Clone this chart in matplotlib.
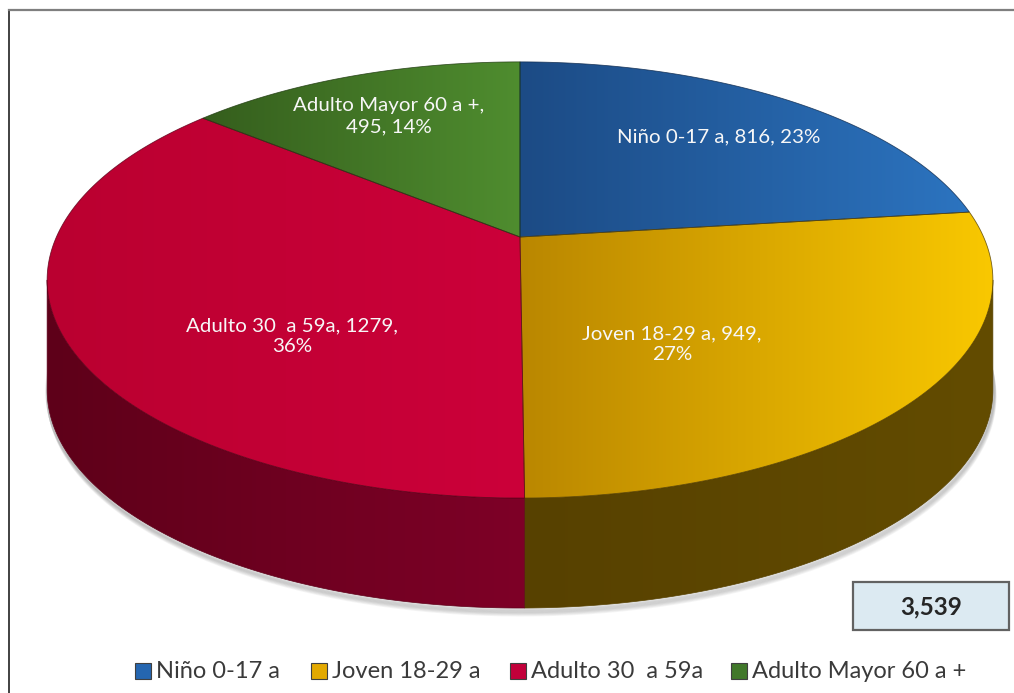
import numpy as np
import matplotlib
matplotlib.use("Agg")
import matplotlib.pyplot as plt
from matplotlib.patches import Polygon, Rectangle
from matplotlib.colors import to_rgb

# ---------------- data ----------------
categories = ["Niño 0-17 a", "Joven 18-29 a", "Adulto 30  a 59a", "Adulto Mayor 60 a +"]
values = [816, 949, 1279, 495]
total_label = "3,539"

top_left = ["#1C4B85", "#BA8700", "#BA0030", "#355E1D"]
top_right = ["#2C74C0", "#F9C800", "#CC003A", "#4F8D2F"]
side_left = ["#0E2A4E", "#574100", "#5E0019", "#1F3A10"]
side_right = ["#163E6E", "#634C00", "#7E0027", "#2A4D16"]
legend_colors = ["#2566B0", "#E3A900", "#C2003A", "#41782A"]

# ---------------- figure ----------------
W, H = 1014, 693
fig = plt.figure(figsize=(W / 100, H / 100), dpi=100)
ax = fig.add_axes([0, 0, 1, 1])
ax.set_xlim(0, W)
ax.set_ylim(H, 0)
ax.axis("off")
FONT = ["Lato", "DejaVu Sans"]

# projected 3-D pie geometry
CX, CY = 520, 237
A, B, K = 463.6, 209.6, 0.197
DEPTH = 110


def proj(theta_deg):
    t = np.radians(theta_deg)
    u = np.sin(t)
    v = -np.cos(t)
    d = 1 - K * v
    return CX + A * u / d, CY + B * v / d


def grad_fill(poly_pts, c1, c2, z):
    poly = Polygon(poly_pts, closed=True, facecolor="none", edgecolor="none", zorder=z)
    ax.add_patch(poly)
    xs = poly_pts[:, 0]
    ys = poly_pts[:, 1]
    x0, x1 = xs.min(), xs.max()
    y0, y1 = ys.min(), ys.max()
    n = 256
    a = np.array(to_rgb(c1))
    b = np.array(to_rgb(c2))
    f = np.linspace(0, 1, n)[None, :, None]
    img = a[None, None, :] * (1 - f) + b[None, None, :] * f
    img = np.repeat(img, 2, axis=0)
    im = ax.imshow(img, extent=(x0, x1, y1, y0), aspect="auto", zorder=z,
                   interpolation="bilinear")
    im.set_clip_path(poly)
    return poly


total = sum(values)
fracs = [v / total for v in values]
bounds = np.concatenate([[0], np.cumsum(fracs) * 360])

# silhouette tangent angles for visible side
grid = np.linspace(0, 360, 7201)
gx, _ = proj(grid)
th_r = grid[:3600][np.argmax(gx[:3600])]
th_l = grid[3600:][np.argmin(gx[3600:])]

# soft shadow under the pie
sh_t = np.linspace(th_r - 8, th_l + 8, 300)
sx, sy = proj(sh_t)
for off in range(1, 9):
    ax.plot(sx + off * 0.2, sy + DEPTH + off * 0.8, color="#707070",
            alpha=0.07, lw=3, zorder=1, solid_capstyle="round")

# side walls
for i in range(len(values)):
    s, e = bounds[i], bounds[i + 1]
    a0, a1 = max(s, th_r), min(e, th_l)
    if a1 <= a0:
        continue
    t = np.linspace(a0, a1, 200)
    x, y = proj(t)
    pts = np.vstack([np.column_stack([x, y]),
                     np.column_stack([x[::-1], y[::-1] + DEPTH])])
    grad_fill(pts, side_left[i], side_right[i], 2)
    ax.add_patch(Polygon(pts, closed=True, facecolor="none",
                         edgecolor=side_left[i], lw=0.5, zorder=2.1))

# top surfaces
for i in range(len(values)):
    s, e = bounds[i], bounds[i + 1]
    t = np.linspace(s, e, 300)
    x, y = proj(t)
    pts = np.vstack([[CX, CY], np.column_stack([x, y])])
    grad_fill(pts, top_left[i], top_right[i], 3)
    ax.add_patch(Polygon(pts, closed=True, facecolor="none",
                         edgecolor=side_left[i], lw=0.6, alpha=0.8, zorder=3.1))

# ---------------- labels ----------------
pcts = [round(f * 100) for f in fracs]
label_texts = [
    f"{categories[0]}, {values[0]}, {pcts[0]}%",
    f"{categories[1]}, {values[1]},\n{pcts[1]}%",
    f"{categories[2]}, {values[2]},\n{pcts[2]}%",
    f"{categories[3]},\n{values[3]}, {pcts[3]}%",
]
label_pos = [(719, 137), (672, 344), (292, 336), (389, 116)]

renderer = fig.canvas.get_renderer()


def fit_size(text, target, weight="normal", base=12):
    t = ax.text(0, 0, text, fontsize=base, family=FONT, weight=weight)
    w = t.get_window_extent(renderer).width
    t.remove()
    return base * target / w


lab_fs = fit_size("Adulto 30  a 59a, 1279,", 211)
for txt, (x, y) in zip(label_texts, label_pos):
    ax.text(x, y, txt, ha="center", va="center", multialignment="center",
            color="#F7F7F7", fontsize=lab_fs, family=FONT, linespacing=1.3,
            zorder=5)

# total box
ax.add_patch(Rectangle((853, 582), 156, 48, facecolor="#DCEAF2",
                       edgecolor="#626262", lw=1.6, zorder=5))
tot_fs = fit_size(total_label, 62, weight="bold")
ax.text(931, 607, total_label, ha="center", va="center", fontsize=tot_fs,
        weight="bold", color="#262626", family=FONT, zorder=6)

# legend
leg_fs = fit_size(categories[3], 214)
leg_x = [135, 311, 510, 731]
for i, cat in enumerate(categories):
    ax.add_patch(Rectangle((leg_x[i], 663), 16, 16, facecolor=legend_colors[i],
                           edgecolor="#404040", lw=0.8, zorder=5))
    ax.text(leg_x[i] + 21, 671, cat, ha="left", va="center", fontsize=leg_fs,
            color="#3A3A3A", family=FONT, zorder=5)

# frame
ax.plot([9, 9], [10, H], color="#333333", lw=1.3, zorder=6)
ax.plot([9, W], [10, 10], color="#7F7F7F", lw=1.6, zorder=6)

ax.set_xlim(0, W)
ax.set_ylim(H, 0)
fig.savefig("out.png", dpi=100)
